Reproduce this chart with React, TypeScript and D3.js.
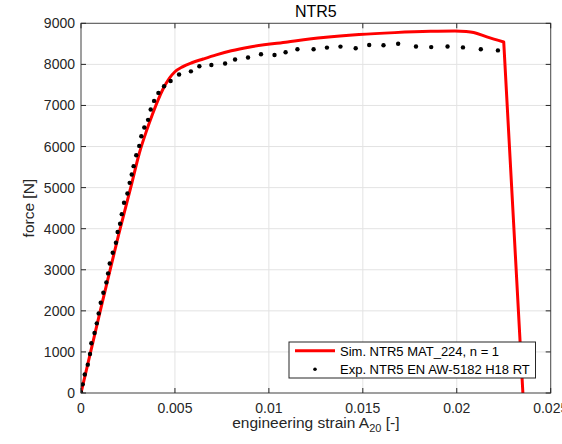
import React from "react";
import * as d3 from "d3";

const simStrain = [0, 0.001, 0.002, 0.0027, 0.0031, 0.0035, 0.0038, 0.0041, 0.0044, 0.0047, 0.005, 0.0054, 0.0059, 0.0065, 0.0072, 0.008, 0.009, 0.011, 0.0129, 0.0148, 0.0167, 0.0186, 0.0199, 0.0205, 0.0209, 0.0216, 0.0225, 0.02352];
const simForce = [0, 1950, 3850, 5100, 5830, 6400, 6780, 7130, 7430, 7660, 7820, 7940, 8040, 8130, 8230, 8330, 8424, 8546, 8652, 8725, 8773, 8805, 8814, 8800, 8774, 8668, 8546, 0];

const expStrain = [0, 0.00009, 0.0002, 0.00036, 0.00048, 0.00055, 0.00072, 0.00084, 0.00094, 0.00105, 0.00119, 0.00135, 0.00144, 0.00153, 0.00169, 0.00186, 0.00195, 0.00208, 0.00217, 0.00229, 0.00247, 0.00259, 0.0027, 0.0028, 0.00294, 0.0031, 0.00321, 0.00337, 0.00357, 0.00371, 0.00389, 0.00412, 0.00442, 0.00477, 0.00522, 0.00585, 0.0063, 0.00694, 0.00767, 0.0082, 0.00889, 0.00958, 0.0103, 0.01089, 0.01152, 0.01238, 0.01309, 0.01381, 0.01462, 0.01534, 0.0161, 0.01688, 0.01783, 0.01864, 0.01951, 0.02033, 0.02128, 0.02219];
const expForce = [20, 210, 450, 690, 950, 1210, 1460, 1695, 1938, 2197, 2441, 2692, 2911, 3154, 3414, 3657, 3920, 4120, 4354, 4630, 4857, 5116, 5319, 5522, 5789, 6016, 6252, 6462, 6649, 6900, 7111, 7306, 7468, 7597, 7752, 7830, 7954, 7986, 8020, 8117, 8166, 8246, 8230, 8295, 8368, 8368, 8409, 8433, 8392, 8473, 8465, 8502, 8437, 8421, 8437, 8413, 8368, 8340];

const xTicks = [0, 0.005, 0.01, 0.015, 0.02, 0.025];
const xTickLabels = ["0", "0.005", "0.01", "0.015", "0.02", "0.025"];
const yTicks = [0, 1000, 2000, 3000, 4000, 5000, 6000, 7000, 8000, 9000];

const title = "NTR5";
const legendSim = "Sim. NTR5 MAT_224, n = 1";
const legendExp = "Exp. NTR5 EN AW-5182 H18 RT";

const FONT = "'Liberation Sans', Arial, Helvetica, sans-serif";
const AX = "#262626";

export default function App() {
  const left = 81, right = 550.7, top = 23.3, bottom = 393;
  const x = d3.scaleLinear().domain([0, 0.025]).range([left, right]);
  const y = d3.scaleLinear().domain([0, 9000]).range([bottom, top]);

  const simPts: [number, number][] = simStrain.map((s, i) => [s, simForce[i]]);
  const smooth = d3.line<[number, number]>().x(d => x(d[0])).y(d => y(d[1])).curve(d3.curveMonotoneX);
  const last = simPts[simPts.length - 1];
  const simPath = (smooth(simPts.slice(0, -1)) || "") + `L${x(last[0])},${y(last[1])}`;
  const tl = 5;

  return (
    <svg width={562} height={444} style={{ position: "absolute", left: 0, top: 0, background: "#fff" }} fontFamily={FONT}>
      <defs>
        <clipPath id="plotClip">
          <rect x={left} y={top} width={right - left} height={bottom - top} />
        </clipPath>
      </defs>
      <rect x={0} y={0} width={562} height={444} fill="#fff" />
      {xTicks.map((t, i) => (
        <line key={"gx" + i} x1={x(t)} x2={x(t)} y1={top} y2={bottom} stroke="#e3e3e3" strokeWidth={1} />
      ))}
      {yTicks.map((t, i) => (
        <line key={"gy" + i} x1={left} x2={right} y1={y(t)} y2={y(t)} stroke="#e3e3e3" strokeWidth={1} />
      ))}
      <g clipPath="url(#plotClip)">
        <path d={simPath} fill="none" stroke="#ff0000" strokeWidth={3} strokeLinejoin="round" />
        {expStrain.map((s, i) => (
          <circle key={"d" + i} cx={x(s)} cy={y(expForce[i])} r={2.2} fill="#000" />
        ))}
      </g>
      <rect x={left} y={top} width={right - left} height={bottom - top} fill="none" stroke={AX} strokeWidth={1} opacity={0.8} />
      {xTicks.map((t, i) => (
        <g key={"tx" + i}>
          <line x1={x(t)} x2={x(t)} y1={bottom} y2={bottom - tl} stroke={AX} />
          <line x1={x(t)} x2={x(t)} y1={top} y2={top + tl} stroke={AX} />
          <text x={x(t)} y={412.5} textAnchor="middle" fontSize={14} fill={AX}>{xTickLabels[i]}</text>
        </g>
      ))}
      {yTicks.map((t, i) => (
        <g key={"ty" + i}>
          <line x1={left} x2={left + tl} y1={y(t)} y2={y(t)} stroke={AX} />
          <line x1={right} x2={right - tl} y1={y(t)} y2={y(t)} stroke={AX} />
          <text x={75} y={y(t) + 5} textAnchor="end" fontSize={14} fill={AX}>{t}</text>
        </g>
      ))}
      <text x={(left + right) / 2} y={17.3} textAnchor="middle" fontSize={16} fill="#000">{title}</text>
      <text x={(left + right) / 2} y={428.3} textAnchor="middle" fontSize={15.5} fill={AX}>
        engineering strain A<tspan fontSize={11} dy={4}>20</tspan><tspan dy={-4}> [-]</tspan>
      </text>
      <text transform={`translate(34,${(top + bottom) / 2}) rotate(-90)`} textAnchor="middle" fontSize={15.5} fill={AX}>force [N]</text>
      <rect x={289} y={342} width={246.5} height={36} fill="#fff" stroke={AX} strokeWidth={1} />
      <line x1={295} x2={335} y1={350.7} y2={350.7} stroke="#ff0000" strokeWidth={3} />
      <text x={340} y={355.5} fontSize={13} fill="#000">{legendSim}</text>
      <circle cx={315} cy={369.3} r={1.8} fill="#000" />
      <text x={340} y={373.8} fontSize={13} fill="#000">{legendExp}</text>
    </svg>
  );
}
